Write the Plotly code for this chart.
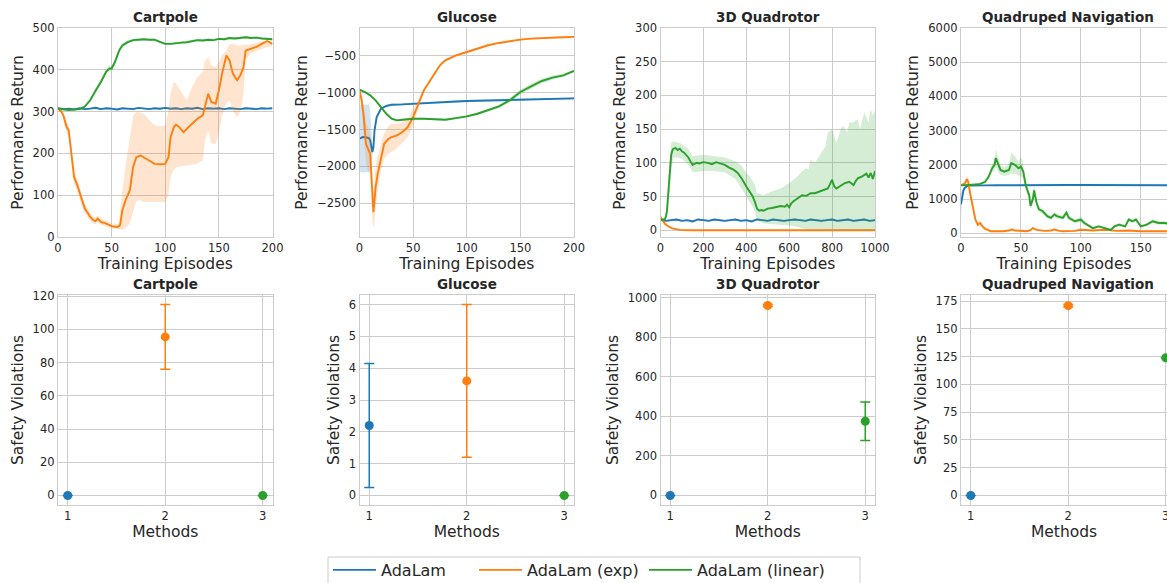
import numpy as np
import plotly.graph_objects as go

# ---------------- data ----------------
METHODS = ["AdaLam", "AdaLam (exp)", "AdaLam (linear)"]
COLORS = ["#1f77b4", "#ff7f0e", "#2ca02c"]
TITLES = ["Cartpole", "Glucose", "3D Quadrotor", "Quadruped Navigation"]

# Cartpole
cp_ada_x = list(range(0, 201, 5))
cp_ada_y = [308, 306, 307, 305, 308, 306, 307, 309, 306, 308,
            307, 305, 308, 307, 306, 309, 307, 306, 308, 307,
            309, 307, 308, 306, 308, 307, 309, 306, 308, 307,
            308, 306, 308, 307, 306, 308, 307, 306, 308, 307,
            308]
cp_ada_sd = 2

cp_exp_x = [0, 3, 5, 8, 10, 12, 15, 18, 20, 22,
            25, 28, 30, 33, 35, 37, 40, 45, 50, 55,
            57, 58, 60, 63, 67, 70, 73, 77, 80, 85,
            90, 95, 100, 103, 105, 108, 110, 113, 117, 120,
            125, 130, 135, 137, 140, 143, 147, 150, 153, 157,
            160, 163, 167, 170, 173, 175, 180, 185, 190, 195,
            200]
cp_exp_y = [308, 300, 291, 263, 255, 207, 143, 124, 108, 88,
            68, 56, 48, 40, 38, 44, 36, 32, 26, 24,
            26, 30, 64, 88, 112, 167, 191, 195, 191, 183,
            175, 174, 175, 191, 239, 263, 269, 263, 251, 259,
            271, 283, 291, 311, 343, 323, 319, 351, 391, 434,
            422, 391, 375, 387, 406, 446, 450, 455, 462, 469,
            462]
cp_exp_lo = [305, 295, 283, 250, 240, 190, 128, 110, 95, 75,
             58, 46, 40, 33, 30, 36, 29, 26, 21, 19,
             18, 18, 16, 22, 32, 60, 86, 88, 84, 84,
             84, 84, 84, 100, 143, 160, 167, 170, 171, 171,
             173, 175, 183, 230, 255, 223, 223, 247, 290, 320,
             327, 300, 287, 300, 343, 426, 438, 445, 450, 455,
             455]
cp_exp_hi = [311, 305, 298, 275, 268, 222, 158, 138, 122, 100,
             80, 66, 58, 48, 46, 52, 44, 39, 32, 30,
             34, 60, 110, 170, 235, 290, 299, 297, 295, 280,
             268, 265, 267, 303, 345, 371, 368, 355, 340, 327,
             359, 383, 395, 420, 430, 410, 406, 418, 435, 446,
             462, 462, 458, 458, 460, 460, 462, 465, 468, 470,
             468]

cp_lin_x = [0, 5, 10, 15, 20, 25, 30, 35, 40, 45,
            48, 50, 53, 57, 60, 65, 70, 75, 80, 85,
            90, 95, 100, 105, 110, 115, 120, 125, 130, 135,
            140, 145, 150, 155, 160, 165, 170, 175, 180, 185,
            190, 195, 200]
cp_lin_y = [307, 305, 304, 305, 306, 312, 327, 350, 371, 396,
            403, 403, 418, 446, 458, 466, 471, 472, 473, 472,
            472, 467, 462, 462, 464, 465, 466, 468, 471, 470,
            472, 471, 474, 473, 476, 475, 477, 478, 476, 477,
            475, 474, 473]
cp_lin_sd = [2, 2, 2, 2, 2, 3, 4, 5, 6, 6,
             6, 5, 6, 6, 5, 4, 3, 3, 3, 3,
             3, 3, 3, 3, 3, 3, 3, 3, 3, 3,
             3, 3, 3, 3, 3, 3, 3, 3, 3, 3,
             3, 3, 3]

# Glucose
gl_ada_x = [0, 3, 6, 9, 10, 11, 12, 13, 14, 16,
            18, 20, 25, 30, 40, 50, 60, 70, 80, 90,
            100, 110, 120, 130, 140, 150, 160, 170, 180, 190,
            200]
gl_ada_y = [-1625, -1602, -1605, -1620, -1650, -1738, -1806, -1738, -1511, -1330,
            -1262, -1217, -1180, -1162, -1158, -1149, -1139, -1126, -1126, -1118,
            -1112, -1108, -1103, -1100, -1094, -1090, -1085, -1083, -1080, -1078,
            -1076]
gl_ada_lo = [-2080, -2080, -2080, -2080, -2050, -1950, -1880, -1790, -1560, -1360,
             -1285, -1235, -1195, -1177, -1172, -1163, -1153, -1140, -1140, -1132,
             -1126, -1122, -1117, -1114, -1108, -1104, -1099, -1097, -1094, -1092,
             -1090]
gl_ada_hi = [-1170, -1165, -1162, -1160, -1250, -1500, -1730, -1690, -1470, -1300,
             -1240, -1200, -1165, -1147, -1144, -1135, -1125, -1112, -1112, -1104,
             -1098, -1094, -1089, -1086, -1080, -1076, -1071, -1069, -1066, -1064,
             -1062]

gl_exp_x = [0, 2, 4, 6, 8, 10, 11, 12, 13, 14,
            15, 17, 20, 23, 27, 30, 35, 40, 45, 50,
            55, 60, 65, 70, 75, 80, 90, 100, 110, 120,
            130, 140, 150, 160, 170, 180, 190, 200]
gl_exp_y = [-967, -1103, -1330, -1693, -1761, -1829, -2101, -2464, -2622, -2464,
            -2282, -2101, -1874, -1693, -1625, -1602, -1579, -1534, -1466, -1330,
            -1149, -967, -854, -740, -627, -559, -491, -446, -400, -355,
            -323, -296, -278, -264, -255, -251, -245, -241]
gl_exp_lo = [-990, -1200, -1600, -1950, -2070, -2100, -2350, -2750, -2830, -2750,
             -2550, -2350, -2050, -1900, -1830, -1800, -1750, -1680, -1600, -1450,
             -1220, -1000, -875, -760, -645, -577, -507, -461, -414, -368,
             -336, -308, -290, -276, -267, -263, -257, -253]
gl_exp_hi = [-945, -1010, -1150, -1400, -1480, -1560, -1850, -2200, -2380, -2200,
             -2000, -1850, -1700, -1550, -1450, -1420, -1420, -1400, -1350, -1220,
             -1090, -935, -833, -720, -609, -541, -475, -431, -386, -342,
             -310, -284, -266, -252, -243, -239, -233, -229]

gl_lin_x = [0, 5, 10, 15, 20, 25, 30, 35, 40, 50,
            60, 70, 80, 90, 100, 110, 120, 130, 140, 150,
            160, 170, 180, 190, 200]
gl_lin_y = [-958, -990, -1035, -1103, -1194, -1285, -1353, -1375, -1366, -1353,
            -1353, -1355, -1366, -1344, -1321, -1285, -1239, -1185, -1103, -990,
            -913, -840, -795, -763, -704]
gl_lin_sd = [8, 10, 12, 14, 15, 15, 15, 15, 15, 15,
             15, 15, 15, 15, 15, 18, 20, 22, 28, 35,
             35, 32, 28, 22, 15]

# 3D Quadrotor
qr_ada_x = list(range(0, 1001, 25))
qr_ada_y = [17, 14, 15, 16, 14, 15, 13, 16, 15, 14,
            16, 15, 14, 15, 16, 14, 15, 13, 16, 15,
            14, 16, 15, 14, 15, 16, 15, 14, 16, 15,
            14, 15, 16, 14, 15, 16, 14, 15, 16, 14,
            15]
qr_ada_sd = 1.5

qr_exp_x = [0, 5, 10, 20, 30, 40, 50, 60, 75, 90, 100, 150, 1000]
qr_exp_y = [20, 17, 14, 10, 7, 5, 3.5, 2.5, 1.2, 0.5, 0.2, 0, 0]
qr_exp_sd = [2, 2, 1.5, 1, 0.8, 0.6, 0.5, 0.4, 0.3, 0.2, 0.1, 0, 0]

qr_lin_x = [0, 10, 20, 25, 30, 35, 40, 45, 50, 55,
            60, 70, 80, 90, 100, 110, 120, 130, 140, 150,
            160, 170, 180, 200, 220, 240, 260, 280, 300, 320,
            340, 360, 380, 400, 410, 420, 430, 440, 450, 460,
            470, 480, 500, 520, 540, 560, 580, 590, 600, 610,
            620, 640, 660, 680, 700, 720, 740, 760, 780, 790,
            800, 810, 820, 840, 860, 880, 900, 910, 920, 940,
            960, 970, 980, 990, 1000]
qr_lin_y = [15, 15, 16, 20, 28, 50, 75, 100, 112, 118,
            121, 122, 119, 121, 117, 115, 112, 108, 102, 97,
            99, 100, 99, 101, 100, 98, 101, 99, 97, 93,
            90, 85, 76, 65, 60, 56, 50, 42, 32, 29,
            30, 29, 32, 33, 34, 36, 35, 38, 34, 40,
            43, 48, 52, 51, 55, 55, 57, 59, 62, 68,
            75, 65, 62, 66, 70, 72, 67, 73, 77, 80,
            84, 78, 85, 76, 88]
qr_lin_bx = [0, 20, 30, 40, 50, 60, 80, 100, 130, 150,
             200, 250, 300, 350, 380, 400, 420, 440, 450, 480,
             520, 560, 600, 640, 660, 680, 690, 700, 720, 750,
             770, 780, 800, 820, 840, 850, 870, 880, 900, 920,
             930, 950, 970, 980, 990, 1000]
qr_lin_lo = [12, 12, 20, 45, 90, 108, 108, 106, 97, 86,
             88, 88, 86, 76, 62, 50, 40, 28, 15, 10,
             9, 8, 7, 5, 3, 1, 0, 0, 0, 0,
             0, 0, 0, 0, 0, 0, 0, 0, 0, 0,
             0, 0, 0, 0, 0, 0]
qr_lin_hi = [18, 19, 38, 95, 130, 132, 130, 128, 120, 110,
             112, 110, 108, 102, 95, 85, 78, 68, 55, 52,
             58, 62, 70, 80, 88, 92, 90, 105, 100, 115,
             125, 145, 150, 130, 150, 155, 145, 160, 160, 165,
             150, 175, 160, 180, 170, 178]

# Quadruped Navigation
qp_ada_x = [0, 1, 2, 3, 4, 5, 7, 10, 20, 30,
            40, 50, 60, 70, 80, 90, 100, 110, 120, 130,
            140, 150, 160, 170, 179]
qp_ada_y = [850, 1100, 1250, 1320, 1360, 1380, 1395, 1400, 1400, 1402,
            1400, 1401, 1400, 1403, 1405, 1410, 1412, 1410, 1408, 1405,
            1407, 1404, 1405, 1403, 1402]
qp_ada_lo = [500, 950, 1150, 1250, 1320, 1350, 1380, 1390, 1390, 1392,
             1390, 1391, 1390, 1393, 1395, 1400, 1402, 1400, 1398, 1395,
             1397, 1394, 1395, 1393, 1392]
qp_ada_hi = [1200, 1250, 1350, 1390, 1400, 1410, 1410, 1410, 1410, 1412,
             1410, 1411, 1410, 1413, 1415, 1420, 1422, 1420, 1418, 1415,
             1417, 1414, 1415, 1413, 1412]

qp_exp_x = [0, 3, 5, 6, 8, 10, 12, 14, 16, 18,
            20, 25, 30, 35, 40, 43, 45, 50, 55, 58,
            60, 63, 70, 75, 78, 82, 85, 95, 100, 110,
            120, 130, 140, 150, 160, 170, 179]
qp_exp_y = [1400, 1450, 1580, 1500, 1100, 700, 400, 250, 300, 200,
            130, 60, 50, 60, 80, 110, 80, 70, 60, 90,
            150, 100, 70, 80, 110, 70, 60, 70, 100, 80,
            100, 70, 80, 60, 70, 60, 50]
qp_exp_sd = [20, 60, 100, 120, 120, 100, 80, 70, 60, 50,
             40, 25, 20, 20, 25, 30, 25, 20, 20, 25,
             35, 25, 20, 20, 25, 20, 20, 20, 25, 20,
             25, 20, 20, 20, 20, 20, 20]

qp_lin_x = [0, 10, 15, 20, 23, 26, 28, 29, 31, 33,
            36, 40, 42, 45, 48, 50, 52, 54, 57, 58,
            60, 61, 63, 65, 68, 72, 75, 78, 80, 85,
            88, 90, 95, 100, 103, 107, 110, 115, 120, 125,
            128, 132, 137, 140, 143, 146, 150, 155, 160, 165,
            170, 175, 179]
qp_lin_y = [1400, 1410, 1430, 1500, 1650, 1900, 2000, 2200, 2000, 1850,
            1800, 1850, 2050, 2000, 1900, 1950, 1800, 1400, 1100, 800,
            1000, 1250, 900, 700, 650, 500, 450, 550, 500, 450,
            600, 450, 350, 400, 300, 200, 150, 200, 150, 100,
            200, 250, 200, 400, 350, 400, 200, 250, 350, 300,
            300, 250, 230]
qp_lin_sd = [10, 10, 15, 25, 60, 120, 180, 250, 200, 150,
             120, 150, 300, 250, 200, 300, 200, 150, 120, 100,
             150, 150, 100, 80, 80, 70, 60, 80, 70, 60,
             100, 70, 60, 80, 60, 40, 40, 40, 40, 40,
             50, 50, 40, 60, 60, 60, 40, 40, 60, 50,
             50, 40, 40]

# Safety violations (mean, error) per method
sv_methods = [1, 2, 3]
sv_cartpole = [0, 95.5, 0]
sv_cartpole_err = [0, 19.5, 0]
sv_glucose = [2.2, 3.6, 0]
sv_glucose_err = [1.95, 2.4, 0]
sv_quadrotor = [0, 960, 375]
sv_quadrotor_err = [0, 5, 97.5]
sv_quadruped = [0, 171, 124]
sv_quadruped_err = [0, 1, 0]

# ---------------- figure ----------------
W, H = 1167, 583
FONT = "DejaVu Sans"
TXT = "#262626"
GRID = "#cccccc"

col_left = [58, 359.5, 660.5, 961]
col_w = 214.5
rows = [(28, 237), (295, 505)]
clip_frac = min(1.0, (W - col_left[3]) / col_w)
legend_item_px = [334, 480, 650]     # left end of each legend line sample
legend_box_px = (328, 860, 557)      # left, right, top of legend frame


def rgba(hexc, a):
    h = hexc.lstrip("#")
    return "rgba(%d,%d,%d,%.2f)" % (int(h[0:2], 16), int(h[2:4], 16), int(h[4:6], 16), a)


def axnames(i):
    return ("x" if i == 0 else "x%d" % (i + 1)), ("y" if i == 0 else "y%d" % (i + 1))


def band_lohi(y, lo=None, hi=None, sd=None):
    y = np.asarray(y, dtype=float)
    if sd is not None:
        sd = np.broadcast_to(np.asarray(sd, dtype=float), y.shape)
        return y - sd, y + sd
    return np.asarray(lo, dtype=float), np.asarray(hi, dtype=float)


fig = go.Figure()
LEGENDS = ["legend", "legend2", "legend3"]

top_series = [
    [(cp_ada_x, cp_ada_y, cp_ada_x, *band_lohi(cp_ada_y, sd=cp_ada_sd)),
     (cp_exp_x, cp_exp_y, cp_exp_x, *band_lohi(cp_exp_y, cp_exp_lo, cp_exp_hi)),
     (cp_lin_x, cp_lin_y, cp_lin_x, *band_lohi(cp_lin_y, sd=cp_lin_sd))],
    [(gl_ada_x, gl_ada_y, gl_ada_x, *band_lohi(gl_ada_y, gl_ada_lo, gl_ada_hi)),
     (gl_exp_x, gl_exp_y, gl_exp_x, *band_lohi(gl_exp_y, gl_exp_lo, gl_exp_hi)),
     (gl_lin_x, gl_lin_y, gl_lin_x, *band_lohi(gl_lin_y, sd=gl_lin_sd))],
    [(qr_ada_x, qr_ada_y, qr_ada_x, *band_lohi(qr_ada_y, sd=qr_ada_sd)),
     (qr_exp_x, qr_exp_y, qr_exp_x, *band_lohi(qr_exp_y, sd=qr_exp_sd)),
     (qr_lin_x, qr_lin_y, qr_lin_bx, np.asarray(qr_lin_lo, float), np.asarray(qr_lin_hi, float))],
    [(qp_ada_x, qp_ada_y, qp_ada_x, *band_lohi(qp_ada_y, qp_ada_lo, qp_ada_hi)),
     (qp_exp_x, qp_exp_y, qp_exp_x, *band_lohi(qp_exp_y, sd=qp_exp_sd)),
     (qp_lin_x, qp_lin_y, qp_lin_x, *band_lohi(qp_lin_y, sd=qp_lin_sd))],
]

for p, series in enumerate(top_series):
    xa, ya = axnames(p)
    for m, (x, y, bx, lo, hi) in enumerate(series):
        bx = list(bx)
        fig.add_trace(go.Scatter(
            x=bx + bx[::-1], y=list(hi) + list(lo)[::-1],
            fill="toself", fillcolor=rgba(COLORS[m], 0.2),
            line=dict(width=0), mode="lines", hoverinfo="skip",
            showlegend=False, xaxis=xa, yaxis=ya))
        fig.add_trace(go.Scatter(
            x=x, y=y, mode="lines", name=METHODS[m],
            line=dict(color=COLORS[m], width=1.9),
            legendgroup=METHODS[m], showlegend=(p == 0), legend=LEGENDS[m],
            xaxis=xa, yaxis=ya))

bottom_series = [
    (sv_cartpole, sv_cartpole_err),
    (sv_glucose, sv_glucose_err),
    (sv_quadrotor, sv_quadrotor_err),
    (sv_quadruped, sv_quadruped_err),
]
for p, (vals, errs) in enumerate(bottom_series):
    xa, ya = axnames(p + 4)
    for m in range(3):
        fig.add_trace(go.Scatter(
            x=[sv_methods[m]], y=[vals[m]], mode="markers",
            marker=dict(color=COLORS[m], size=9),
            error_y=dict(type="data", array=[errs[m]], color=COLORS[m],
                         thickness=1.5, width=5),
            cliponaxis=False, showlegend=False, legendgroup=METHODS[m],
            xaxis=xa, yaxis=ya))

x_ranges = [[0, 200], [0, 200], [0, 1000], [0, 179 * clip_frac]] + \
           [[0.9, 3.1], [0.9, 3.1], [0.9, 3.1], [0.9, 0.9 + 2.2 * clip_frac]]
y_ranges = [[0, 500], [-2960, -120], [-10, 300], [-110, 6000],
            [-5.75, 120.75], [-0.3, 6.3], [-48.25, 1013.25], [-8.6, 180.6]]
x_dticks = [50, 50, 200, 50, 1, 1, 1, 1]
y_dticks = [100, 500, 50, 1000, 20, 1, 200, 25]

common = dict(showgrid=True, gridcolor=GRID, gridwidth=1, showline=True,
              linecolor=GRID, linewidth=1.25, zeroline=False, ticks="",
              tickfont=dict(family=FONT, size=11.5, color=TXT),
              title_font=dict(family=FONT, size=15.5, color=TXT),
              fixedrange=True, tick0=0, ticklabeloverflow="allow")

layout = {}
annotations = []
for i in range(8):
    r, c = divmod(i, 4)
    xa, ya = axnames(i)
    x0 = col_left[c] / W
    x1 = min((col_left[c] + col_w) / W, 1.0)
    t, b = rows[r]
    y0, y1 = 1 - b / H, 1 - t / H
    last = (c == 3)
    layout["xaxis" if i == 0 else "xaxis%d" % (i + 1)] = dict(
        common, domain=[x0, x1], anchor=ya, range=x_ranges[i], dtick=x_dticks[i],
        mirror=True, title=dict(text="Training Episodes" if r == 0 else "Methods", standoff=3))
    layout["yaxis" if i == 0 else "yaxis%d" % (i + 1)] = dict(
        common, domain=[y0, y1], anchor=xa, range=y_ranges[i], dtick=y_dticks[i],
        mirror=not last,
        title=dict(text="Performance Return" if r == 0 else "Safety Violations", standoff=5))
    annotations.append(dict(
        text="<b>%s</b>" % TITLES[c], xref="paper", yref="paper",
        x=(col_left[c] + col_w / 2) / W, y=y1, xanchor="center", yanchor="bottom",
        yshift=1, showarrow=False, font=dict(family=FONT, size=13.5, color=TXT)))

for m, lg in enumerate(LEGENDS):
    layout[lg] = dict(
        orientation="h", x=(legend_item_px[m] - 6) / W, xanchor="left",
        y=1 - (legend_box_px[2] - 4) / H, yanchor="top",
        bgcolor="rgba(0,0,0,0)", borderwidth=0, itemwidth=43,
        font=dict(family=FONT, size=16, color=TXT))

fig.update_layout(
    **layout,
    annotations=annotations,
    shapes=[dict(type="rect", xref="paper", yref="paper",
                 x0=legend_box_px[0] / W, x1=legend_box_px[1] / W,
                 y0=1 - legend_box_px[2] / H, y1=-0.1,
                 line=dict(color=GRID, width=1), fillcolor="white", layer="above")],
    width=W, height=H,
    margin=dict(l=0, r=0, t=0, b=0, autoexpand=False),
    paper_bgcolor="white", plot_bgcolor="white",
    font=dict(family=FONT, color=TXT),
)

fig.write_html("out.html")
